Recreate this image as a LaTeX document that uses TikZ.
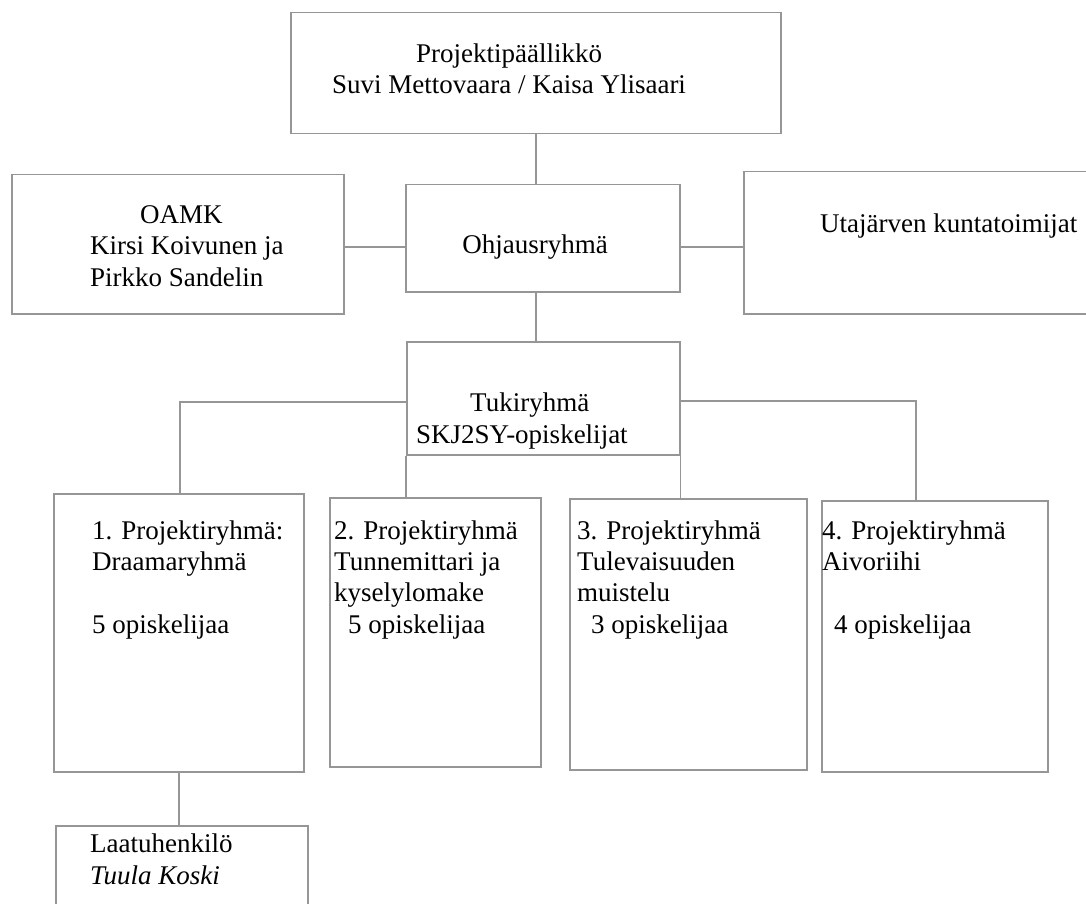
\documentclass[tikz,border=0pt]{standalone}
\usepackage{fontspec}
\setmainfont{Liberation Serif}
\definecolor{linegray}{RGB}{150,150,150}

\begin{document}
\begin{tikzpicture}[x=1pt,y=-1pt]
\tikzstyle{box}=[draw=linegray,line width=1.5pt,rectangle,inner sep=0pt,anchor=north west]
\tikzstyle{txt}=[inner sep=0pt,anchor=base west,align=left,font=\fontsize{27}{31.3}\selectfont]
\tikzstyle{conn}=[draw=linegray,line width=1.5pt]
\useasboundingbox (0,0) rectangle (1086,904);
\clip (0,0) rectangle (1086,904);

% boxes
\node[box,minimum width=490pt,minimum height=121pt] (pp) at (290,12) {};
\node[box,minimum width=332pt,minimum height=139pt] (oamk) at (11,174) {};
\node[box,minimum width=274pt,minimum height=107pt] (ohj) at (405,184) {};
\node[box,minimum width=360pt,minimum height=142pt] (uta) at (743,171) {};
\node[box,minimum width=273pt,minimum height=113pt] (tuki) at (406,341) {};
\node[box,minimum width=250pt,minimum height=278pt] (p1) at (53,493) {};
\node[box,minimum width=211pt,minimum height=269pt] (p2) at (329,497) {};
\node[box,minimum width=237pt,minimum height=271pt] (p3) at (569,498) {};
\node[box,minimum width=226pt,minimum height=271pt] (p4) at (821,500) {};
\node[box,minimum width=252pt,minimum height=100pt] (laatu) at (55,825) {};

% texts
\node[txt,align=center,anchor=base] (pptext) at (509,94) {Projektipäällikkö\\Suvi Mettovaara / Kaisa Ylisaari};
\node[txt] (oamktext) at (90,286) {\hspace*{50pt}OAMK\\Kirsi Koivunen ja\\Pirkko Sandelin};
\node[txt,anchor=base] (ohjtext) at (535,253) {Ohjausryhmä};
\node[txt] (utatext) at (820,232) {Utajärven kuntatoimijat};
\node[txt] (tukitext) at (416,443) {\hspace*{54pt}Tukiryhmä\\SKJ2SY-opiskelijat};
\node[txt] (p1text) at (92,633) {1. Projektiryhmä:\\Draamaryhmä\\[31.3pt]5 opiskelijaa};
\node[txt] (p2text) at (334,633) {2. Projektiryhmä\\Tunnemittari ja\\kyselylomake\\\hspace*{14pt}5 opiskelijaa};
\node[txt] (p3text) at (577,633) {3. Projektiryhmä\\Tulevaisuuden\\muistelu\\\hspace*{14pt}3 opiskelijaa};
\node[txt] (p4text) at (822,633) {4. Projektiryhmä\\Aivoriihi\\[31.3pt]\hspace*{12pt}4 opiskelijaa};
\node[txt] (laatutext) at (90,884) {Laatuhenkilö\\\textit{Tuula Koski}};

% connectors
\coordinate (tl) at (180,402);
\coordinate (tr) at (916,401);
\coordinate (mid) at (405,247);
\draw[conn] (pp.south) -- (pp.south |- ohj.north);
\draw[conn] (pp.south |- ohj.south) -- (pp.south |- tuki.north);
\draw[conn] (oamk.east |- mid) -- (mid);
\draw[conn] (ohj.east |- mid) -- (uta.west |- mid);
\draw[conn] (tuki.west |- tl) -- (tl) -- (tl |- p1.north);
\draw[conn] (tuki.east |- tr) -- (tr) -- (tr |- p4.north);
\draw[conn] (tuki.south west) -- (tuki.south west |- p2.north);
\draw[conn] (tuki.south east) -- (tuki.south east |- p3.north);
\draw[conn] (p1.south) -- (p1.south |- laatu.north);
\end{tikzpicture}
\end{document}
